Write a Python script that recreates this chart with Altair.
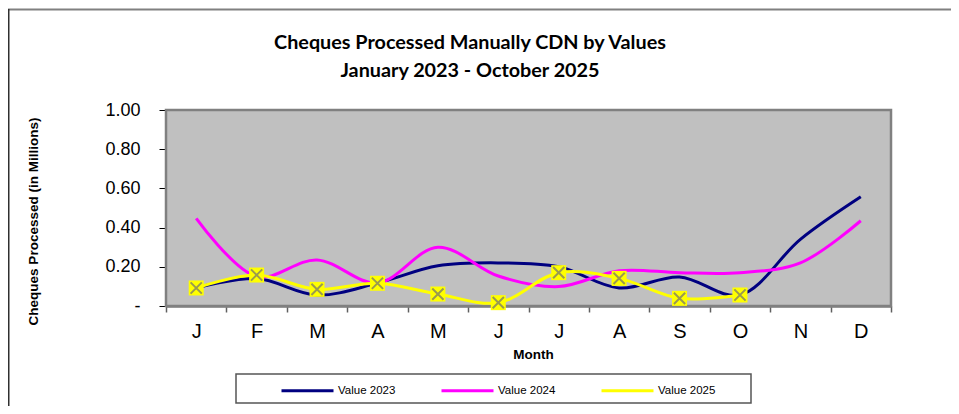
import altair as alt
import pandas as pd

MONTHS = ["J", "F", "M", "A", "M", "J", "J", "A", "S", "O", "N", "D"]
SERIES = ["Value 2023", "Value 2024", "Value 2025"]
V2023 = [0.092, 0.14, 0.056, 0.117, 0.205, 0.22, 0.20, 0.092, 0.148, 0.056, 0.34, 0.557]
V2024 = [0.447, 0.15, 0.235, 0.117, 0.30, 0.153, 0.099, 0.18, 0.17, 0.17, 0.22, 0.435]
V2025 = [0.092, 0.158, 0.085, 0.116, 0.061, 0.017, 0.17, 0.141, 0.039, 0.056, None, None]
COLORS = ["#000080", "#FF00FF", "#FFFF00"]
Y_TICKS = [0, 0.2, 0.4, 0.6, 0.8, 1.0]
TITLE_LINES = ["Cheques Processed Manually CDN by Values", "January 2023 - October 2025"]

rows = []
for name, vals in zip(SERIES, [V2023, V2024, V2025]):
    for i, v in enumerate(vals):
        if v is not None:
            rows.append({"series": name, "idx": i + 1, "month": MONTHS[i], "value": v})
df = pd.DataFrame(rows)
df25 = df[df["series"] == "Value 2025"]

label_expr = "[" + ",".join(f"'{m}'" for m in MONTHS) + "][datum.value - 1]"
xscale = alt.Scale(domain=[0.5, len(MONTHS) + 0.5], nice=False, zero=False)
yscale = alt.Scale(domain=[0, 1], nice=False)

yenc = alt.Y(
    "value:Q", scale=yscale,
    axis=alt.Axis(
        values=Y_TICKS,
        labelExpr="datum.value == 0 ? '-' : format(datum.value, '.2f')",
        labelFont="Liberation Sans", labelFontSize=18, labelColor="black",
        labelPadding=19, tickSize=7, tickColor="black", domainColor="black",
        domainWidth=1.5, grid=True, gridColor="white", gridWidth=1.5,
        title="Cheques Processed (in Millions)", titleFont="Liberation Sans",
        titleFontSize=13.5, titleFontWeight="bold", titleColor="black",
        titleX=-133, titleY=111, titleAlign="center", titleBaseline="middle",
        titleAngle=270,
    ),
)

label_axis = alt.Axis(
    values=list(range(1, len(MONTHS) + 1)), labelExpr=label_expr,
    labelFont="Liberation Sans", labelFontSize=20, labelColor="black",
    labelPadding=15, ticks=False, domain=False, grid=False,
    title="Month", titleFont="Liberation Sans", titleFontSize=13.5,
    titleFontWeight="bold", titleColor="black",
    titleX=367, titleY=48, titleAlign="center", titleBaseline="middle",
    orient="bottom",
)
tick_axis = alt.Axis(
    values=[i + 0.5 for i in range(len(MONTHS) + 1)], labels=False,
    ticks=True, tickSize=6, tickColor="#606060", tickWidth=1.5,
    domain=True, domainColor="#808080", domainWidth=2.5, grid=False,
    title=None, orient="bottom",
)

one = pd.DataFrame({"a": [0]})

outer_top = alt.Chart(one).mark_rule(color="#808080", strokeWidth=2).encode(
    x=alt.value(-158), x2=alt.value(785), y=alt.value(-100.5))
outer_left = alt.Chart(one).mark_rule(color="#303030", strokeWidth=2).encode(
    x=alt.value(-157.5), y=alt.value(-101), y2=alt.value(296))
legend_box = alt.Chart(one).mark_rect(fill="white", stroke="#555555", strokeWidth=1.5).encode(
    x=alt.value(70), x2=alt.value(585), y=alt.value(264), y2=alt.value(293))
plot_bg = alt.Chart(one).mark_rect(fill="#C0C0C0", stroke="#808080", strokeWidth=2.5).encode(
    x=alt.value(0), x2=alt.value(725), y=alt.value(0), y2=alt.value(196))

title1 = alt.Chart(one).mark_text(
    text=TITLE_LINES[0], font="Lato", fontSize=19.8, fontWeight="bold",
    color="black", align="center", baseline="alphabetic",
).encode(x=alt.value(304), y=alt.value(-61))
title2 = alt.Chart(one).mark_text(
    text=TITLE_LINES[1], font="Lato", fontSize=19.8, fontWeight="bold",
    color="black", align="center", baseline="alphabetic",
).encode(x=alt.value(304), y=alt.value(-33))

lines = alt.Chart(df).mark_line(interpolate="catmull-rom", strokeWidth=3).encode(
    x=alt.X("idx:Q", scale=xscale, axis=label_axis),
    y=yenc,
    color=alt.Color(
        "series:N",
        scale=alt.Scale(domain=SERIES, range=COLORS),
        legend=alt.Legend(
            orient="none", legendX=114, legendY=253, direction="horizontal",
            columns=3, title=None, symbolType="stroke", symbolSize=2704,
            symbolStrokeWidth=3, labelFont="Liberation Sans", labelFontSize=11.5,
            labelColor="black", columnPadding=39, labelOffset=3, padding=0,
        ),
    ),
    detail="series:N",
)

squares = alt.Chart(df25).mark_square(size=225, color="#FFFF00", opacity=1).encode(
    x=alt.X("idx:Q", scale=xscale, axis=tick_axis),
    y=yenc,
)
crosses = alt.Chart(df25).mark_point(
    shape="M-0.75,-0.75L0.75,0.75M-0.75,0.75L0.75,-0.75",
    size=225, stroke="#9A9A50", strokeWidth=2, filled=False, opacity=1,
).encode(
    x=alt.X("idx:Q", scale=xscale, axis=None),
    y=yenc,
)

chart = alt.layer(
    outer_top, outer_left, legend_box, title1, title2, plot_bg, lines, squares, crosses
).resolve_axis(x="independent").properties(
    width=725, height=196,
    autosize=alt.AutoSizeParams(type="none"),
    padding={"left": 158, "top": 102, "right": 60, "bottom": 100},
    background="white",
).configure_view(stroke=None)

chart.save("out.html", embed_options={"renderer": "svg", "actions": False})
